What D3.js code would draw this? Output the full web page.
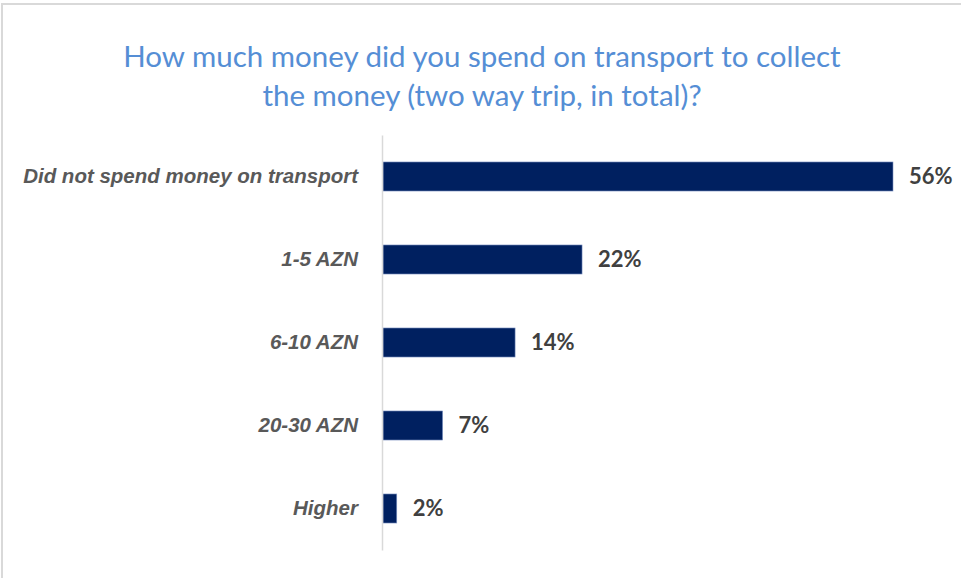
<!DOCTYPE html>
<html>
<head>
<meta charset="utf-8">
<script src="https://cdn.jsdelivr.net/npm/d3@7"></script>
<style>
  html, body { margin: 0; padding: 0; background: #fff; }
  svg { display: block; }
</style>
</head>
<body>
<svg id="chart" width="961" height="578"></svg>
<script>
const categories = ["Did not spend money on transport", "1-5 AZN", "6-10 AZN", "20-30 AZN", "Higher"];
const values = [55.6, 21.7, 14.4, 6.5, 1.5];
const valueLabels = ["56%", "22%", "14%", "7%", "2%"];
const titleLines = ["How much money did you spend on transport to collect", "the money (two way trip, in total)?"];

const FONT = "Lato, 'Liberation Sans', Arial, sans-serif";
const CAT_FONT = "'Liberation Sans', Arial, sans-serif";
const svg = d3.select("#chart");
const W = 961, H = 578;

// outer frame
svg.append("rect")
  .attr("x", 2).attr("y", 4)
  .attr("width", W + 20).attr("height", H + 20)
  .attr("fill", "#fff")
  .attr("stroke", "#d9d9d9").attr("stroke-width", 2);

// title
const title = svg.append("text")
  .attr("text-anchor", "middle")
  .attr("font-family", FONT)
  .attr("font-size", 29.5)
  .attr("fill", "#558ed5");
titleLines.forEach((t, i) => {
  title.append("tspan").attr("x", 482).attr("y", 67 + i * 39).text(t);
});

const x0 = 383;
const x = d3.scaleLinear().domain([0, d3.max(values)]).range([x0, 893]);
const y = d3.scaleBand().domain(categories).range([135, 550])
  .paddingInner(0.65).paddingOuter(0.325);

// bars
svg.append("g").selectAll("rect")
  .data(categories)
  .join("rect")
  .attr("x", x(0))
  .attr("y", d => y(d))
  .attr("width", (d, i) => x(values[i]) - x(0))
  .attr("height", y.bandwidth())
  .attr("fill", "#002060")
  .attr("stroke", "#7f95c4")
  .attr("stroke-width", 0.6);

// axis
const axis = svg.append("g")
  .attr("transform", `translate(382,0)`)
  .call(d3.axisLeft(y).tickSize(0).tickPadding(24));
axis.select(".domain").attr("stroke", "#d9d9d9").attr("stroke-width", 1.5);
axis.selectAll("text")
  .attr("font-family", CAT_FONT)
  .attr("font-size", 20.5)
  .attr("font-weight", "bold")
  .attr("font-style", "italic")
  .attr("fill", "#595959");

// value labels
svg.append("g").selectAll("text")
  .data(categories)
  .join("text")
  .attr("x", (d, i) => x(values[i]) + 16)
  .attr("y", d => y(d) + y.bandwidth() / 2)
  .attr("dy", "0.35em")
  .attr("font-family", FONT)
  .attr("font-size", 22)
  .attr("font-weight", "bold")
  .attr("fill", "#404040")
  .text((d, i) => valueLabels[i]);
</script>
</body>
</html>
